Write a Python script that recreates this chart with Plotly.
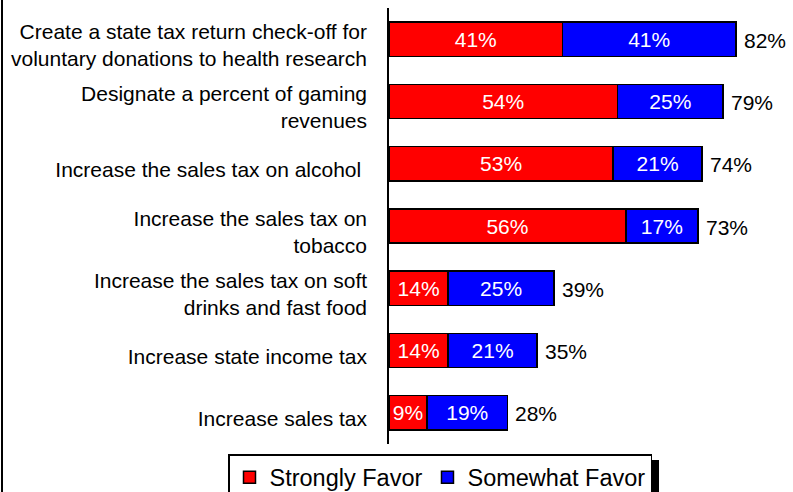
import plotly.graph_objects as go

categories = [
    "Create a state tax return check-off for<br>voluntary donations to health research",
    "Designate a percent of gaming<br>revenues",
    "Increase the sales tax on alcohol ",
    "Increase the sales tax on<br>tobacco",
    "Increase the sales tax on soft<br>drinks and fast food",
    "Increase state income tax",
    "Increase sales tax",
]
strongly_favor = [41, 54, 53, 56, 14, 14, 9]
somewhat_favor = [41, 25, 21, 17, 25, 21, 19]
totals = [82, 79, 74, 73, 39, 35, 28]

FONT = "Liberation Sans, Arial, sans-serif"
W, H = 793, 492
ML, MR, MT, MB = 389, 20, 8, 48
PW = W - ML - MR
PH = H - MT - MB

fig = go.Figure()
fig.add_trace(go.Bar(
    y=categories, x=strongly_favor, orientation="h", name="Strongly Favor",
    marker=dict(color="#FF0000", line=dict(color="black", width=1.5)),
    text=[f"{v}%" for v in strongly_favor], textposition="inside",
    insidetextanchor="middle",
    insidetextfont=dict(color="white", size=21, family=FONT),
    width=0.55,
))
fig.add_trace(go.Bar(
    y=categories, x=somewhat_favor, orientation="h", name="Somewhat Favor",
    marker=dict(color="#0000FF", line=dict(color="black", width=1.5)),
    text=[f"{v}%" for v in somewhat_favor], textposition="inside",
    insidetextanchor="middle",
    insidetextfont=dict(color="white", size=21, family=FONT),
    width=0.55,
))

for c, t in zip(categories, totals):
    fig.add_annotation(x=t, y=c, text=f"{t}%", xanchor="left", showarrow=False,
                       xshift=6, yshift=-1, font=dict(size=21, color="black", family=FONT))

def px_x(px):
    return (px - ML) / PW

def px_y(py):
    return (H - MB - py) / PH

# left frame line
fig.add_shape(type="line", xref="paper", yref="paper",
              x0=px_x(2), x1=px_x(2), y0=px_y(H + 10), y1=px_y(-10),
              line=dict(color="black", width=2))
# legend shadow
fig.add_shape(type="rect", xref="paper", yref="paper",
              x0=px_x(240), x1=px_x(659), y0=px_y(H + 20), y1=px_y(460),
              fillcolor="black", line=dict(width=0), layer="above")

fig.update_layout(
    width=W, height=H,
    margin=dict(l=ML, r=MR, t=MT, b=MB, autoexpand=False),
    barmode="stack",
    plot_bgcolor="white", paper_bgcolor="white",
    font=dict(family=FONT, size=21, color="black"),
    showlegend=True,
    legend=dict(
        orientation="h", xref="paper", yref="paper",
        x=px_x(228), y=px_y(454), xanchor="left", yanchor="top",
        bgcolor="white", bordercolor="black", borderwidth=1.5,
        font=dict(size=23.5, family=FONT, color="black"),
        traceorder="normal", itemwidth=30,
    ),
    xaxis=dict(range=[0, PW / 4.23], visible=False, fixedrange=True),
    yaxis=dict(autorange="reversed", showline=True, linecolor="black", linewidth=1.5,
               ticks="", ticklabelstandoff=16, ticklabelshift=-6, showgrid=False,
               tickfont=dict(size=21, family=FONT, color="black")),
)

fig.write_html("out.html")
